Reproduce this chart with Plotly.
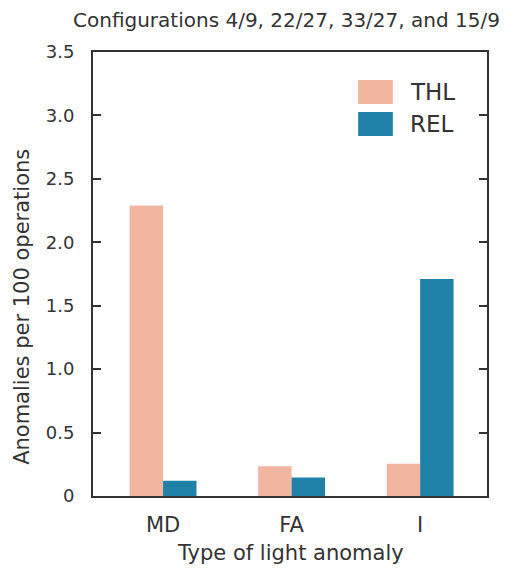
import plotly.graph_objects as go

categories = ["MD", "FA", "I"]
thl_values = [2.29, 0.235, 0.255]
rel_values = [0.12, 0.145, 1.71]
y_tickvals = [0, 0.5, 1.0, 1.5, 2.0, 2.5, 3.0, 3.5]
y_ticktext = ["0", "0.5", "1.0", "1.5", "2.0", "2.5", "3.0", "3.5"]
series_names = ["THL", "REL"]

THL_COLOR = "#F2B5A0"
REL_COLOR = "#1F80A8"
AX = "#333333"
FONT = "DejaVu Sans, Arial, sans-serif"

fig = go.Figure()
fig.add_trace(go.Bar(name=series_names[0], x=categories, y=thl_values, marker_color=THL_COLOR,
                     marker_line_width=0, showlegend=False))
fig.add_trace(go.Bar(name=series_names[1], x=categories, y=rel_values, marker_color=REL_COLOR,
                     marker_line_width=0, showlegend=False))

# legend drawn as large swatches (paper coordinates)
legend_shapes = []
legend_annots = []
for i, (nm, col) in enumerate(zip(series_names, [THL_COLOR, REL_COLOR])):
    y_top = 0.937 - i * 0.072
    legend_shapes.append(dict(type="rect", xref="paper", yref="paper",
                              x0=0.673, x1=0.761, y0=y_top - 0.054, y1=y_top,
                              fillcolor=col, line=dict(width=0)))
    legend_annots.append(dict(text=nm, xref="paper", yref="paper", x=0.80, y=y_top - 0.027,
                              showarrow=False, xanchor="left", yanchor="middle",
                              font=dict(size=23, color=AX)))

fig.update_layout(
    width=512, height=570,
    barmode="group", bargap=0.48, bargroupgap=0,
    plot_bgcolor="white", paper_bgcolor="white",
    margin=dict(l=93, r=25, t=52, b=74),
    font=dict(family=FONT, color=AX, size=17),
    shapes=legend_shapes,
    annotations=legend_annots + [
        dict(text="Configurations 4/9, 22/27, 33/27, and 15/9", xref="paper", yref="paper",
             x=0.49, y=1.0, yshift=32, showarrow=False, font=dict(size=20, color=AX),
             xanchor="center", yanchor="middle"),
        dict(text="Anomalies per 100 operations", xref="paper", yref="paper",
             x=0, xshift=-71, y=0.426, showarrow=False, textangle=-90,
             font=dict(size=21, color=AX), xanchor="center", yanchor="middle"),
        dict(text="Type of light anomaly", xref="paper", yref="paper",
             x=0.5, y=0, yshift=-57, showarrow=False,
             font=dict(size=21, color=AX), xanchor="center", yanchor="middle"),
    ],
)

fig.update_xaxes(
    range=[-0.545, 2.52], showline=True, linecolor=AX, linewidth=2, mirror=True,
    ticks="", tickfont=dict(size=21, color=AX), ticklabelstandoff=9,
)
fig.update_yaxes(
    range=[0, 3.5], tickvals=y_tickvals, ticktext=y_ticktext,
    showline=True, linecolor=AX, linewidth=2, mirror="allticks",
    ticks="inside", ticklen=8, tickwidth=1.5, tickcolor=AX,
    showgrid=False, zeroline=False, tickfont=dict(size=18, color=AX),
    ticklabelstandoff=13,
)

fig.write_html("out.html", config={"displayModeBar": False},
               post_script="document.body.style.margin='0';document.body.style.overflow='hidden';")
